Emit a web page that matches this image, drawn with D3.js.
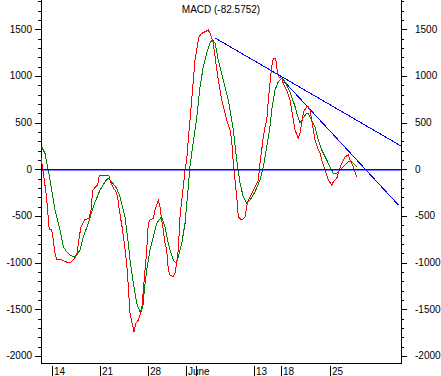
<!DOCTYPE html>
<html>
<head>
<meta charset="utf-8">
<script src="https://cdn.jsdelivr.net/npm/d3@7"></script>
<style>
  body { margin: 0; background: #fff; }
  svg { display: block; font-family: "Liberation Sans", Arial, sans-serif; font-size: 10px; }
</style>
</head>
<body>
<div id="chart"></div>
<script>
// time unit = trading days, 0 = May 14
var title = "MACD (-82.5752)";
var tickDays = [0, 4.95, 10, 14.1, 15.15, 21.2, 24.1, 29.25];
var tickLabels = ["14", "21", "28", "June", "", "13", "18", "25"];
var yMajor = [-2000, -1500, -1000, -500, 0, 500, 1000, 1500];

// MACD line (red) [day, value]
var macd = [[-1.21,120],[-1.03,10],[-0.68,-255],[-0.51,-436],[-0.34,-650],[-0.08,-650],[0.08,-757],[0.26,-897],
  [0.44,-971],[0.97,-971],[1.32,-990],[1.84,-1000],[2.19,-971],[2.55,-918],[2.82,-722],[3.0,-615],[3.35,-543],
  [3.87,-522],[4.05,-436],[4.23,-222],[4.58,-186],[4.76,-168],[4.93,-61],[5.92,-61],[6.05,-115],[6.34,-186],
  [6.68,-240],[6.86,-294],[7.03,-436],[7.32,-615],[7.56,-793],[7.81,-1007],[7.98,-1258],[8.16,-1543],[8.34,-1633],
  [8.58,-1740],[8.79,-1647],[9.03,-1615],[9.39,-1507],[9.56,-1293],[9.74,-1079],[9.92,-865],[10.08,-579],
  [10.26,-543],[10.61,-525],[10.79,-436],[11.14,-329],[11.32,-401],[11.49,-543],[11.66,-650],[11.84,-793],
  [12.02,-865],[12.19,-1079],[12.37,-1132],[12.72,-1150],[12.89,-1114],[13.07,-1007],[13.24,-865],[13.42,-508],
  [13.6,-329],[13.77,-186],[13.95,-8],[14.13,100],[14.29,314],[14.47,528],[14.65,742],[14.82,957],[15.0,1171],
  [15.18,1278],[15.42,1421],[15.71,1457],[16.05,1474],[16.4,1492],[16.58,1457],[16.93,1350],[17.11,1206],
  [17.45,957],[17.81,742],[18.16,600],[18.34,528],[18.68,421],[18.86,314],[19.03,64],[19.21,-115],[19.39,-294],
  [19.56,-508],[19.92,-543],[20.26,-508],[20.44,-401],[20.61,-329],[20.97,-257],[21.32,-186],[21.66,-115],
  [21.84,64],[22.02,207],[22.19,349],[22.37,456],[22.55,528],[22.72,742],[22.89,921],[23.07,1099],[23.24,1189],
  [23.49,1189],[23.6,1099],[23.77,992],[24.13,975],[24.29,921],[24.65,850],[25.0,742],[25.18,635],[25.35,528],
  [25.53,421],[25.87,332],[26.05,386],[26.23,493],[26.42,614],[26.76,671],[26.93,671],[27.11,635],[27.28,528],
  [27.45,421],[27.63,314],[27.98,207],[28.16,171],[28.34,100],[28.68,-8],[29.03,-115],[29.39,-168],[29.56,-133],
  [29.92,-96],[30.08,-43],[30.44,64],[30.79,135],[31.14,153],[31.32,100],[31.66,28],[32.02,-83]];

// signal line (green) [day, value]
var signal = [[-1.14,242],[-0.79,171],[-0.44,-8],[-0.08,-222],[0.26,-436],[0.79,-650],[1.14,-829],[1.49,-883],
  [1.84,-918],[2.19,-936],[2.55,-918],[2.89,-865],[3.24,-722],[3.77,-579],[4.29,-401],[5.0,-222],[5.53,-133],
  [5.87,-96],[6.23,-133],[6.76,-204],[7.11,-294],[7.63,-508],[7.98,-793],[8.16,-972],[8.51,-1221],[8.86,-1436],
  [9.21,-1526],[9.49,-1489],[9.74,-1221],[9.92,-1079],[10.26,-865],[10.44,-793],[10.97,-579],[11.49,-508],
  [11.84,-615],[12.19,-793],[12.37,-865],[12.72,-972],[13.0,-1007],[13.24,-936],[13.42,-865],[13.6,-793],
  [13.95,-579],[14.29,-186],[14.47,28],[14.65,171],[15.0,421],[15.18,550],[15.53,885],[15.87,1099],[16.23,1243],
  [16.58,1350],[16.82,1393],[17.11,1350],[17.45,1171],[17.98,957],[18.51,742],[18.86,528],[19.03,421],[19.39,100],
  [19.74,-150],[20.08,-294],[20.44,-364],[20.79,-329],[21.32,-240],[21.84,-115],[22.19,28],[22.55,242],[22.89,456],
  [23.07,635],[23.42,850],[23.77,939],[24.13,975],[24.47,939],[25.0,831],[25.53,671],[25.87,546],[26.05,493],
  [26.37,550],[26.76,600],[26.93,600],[27.28,528],[27.63,456],[27.98,314],[28.34,207],[28.86,100],[29.39,-8],
  [29.56,-43],[29.92,-43],[30.26,-8],[30.79,46],[31.14,81],[31.49,81],[31.84,46],[32.02,28]];

// trend lines drawn on the chart
var trendLines = [
  [[17.11, 1407], [36.68, 250]],
  [[23.95, 989], [36.4, -382]]
];

var width = 441, height = 376;
var plotLeft = 41, plotRight = 401, plotTop = 0, plotBottom = 363;

var x = d3.scaleLinear().domain([-1.21, 36.68]).range([plotLeft, plotRight]);
var y = d3.scaleLinear().domain([-2075, 1814]).range([plotBottom, plotTop]);

var svg = d3.select('#chart').append('svg')
  .attr('width', width)
  .attr('height', height);

// minor / major ticks on both y axes
var minor = d3.range(-2000, 1801, 100);
var yg = svg.append('g').attr('stroke', '#000').attr('shape-rendering', 'crispEdges');
minor.forEach(function(v) {
  var major = yMajor.indexOf(v) >= 0;
  var len = major ? 6 : 3;
  var py = Math.round(y(v)) + 0.5;
  yg.append('line').attr('x1', plotLeft - len).attr('x2', plotLeft).attr('y1', py).attr('y2', py);
  yg.append('line').attr('x1', plotRight).attr('x2', plotRight + len).attr('y1', py).attr('y2', py);
});

svg.append('g').selectAll('text').data(yMajor).enter().append('text')
  .attr('x', 32).attr('y', function(d) { return y(d); })
  .attr('dy', '0.35em').attr('text-anchor', 'end')
  .text(function(d) { return d; });
svg.append('g').selectAll('text').data(yMajor).enter().append('text')
  .attr('x', 415).attr('y', function(d) { return y(d); })
  .attr('dy', '0.35em')
  .text(function(d) { return d; });

// axis frame
var frame = svg.append('g').attr('stroke', '#000').attr('shape-rendering', 'crispEdges');
frame.append('line').attr('x1', plotLeft + 0.5).attr('x2', plotLeft + 0.5).attr('y1', plotTop).attr('y2', plotBottom + 0.5);
frame.append('line').attr('x1', plotRight + 0.5).attr('x2', plotRight + 0.5).attr('y1', plotTop).attr('y2', plotBottom + 0.5);
frame.append('line').attr('x1', plotLeft).attr('x2', plotRight + 1).attr('y1', plotBottom + 0.5).attr('y2', plotBottom + 0.5);

// x ticks
var xg = svg.append('g');
xg.selectAll('line').data(tickDays).enter().append('line')
  .attr('x1', function(d) { return Math.round(x(d)) + 0.5; })
  .attr('x2', function(d) { return Math.round(x(d)) + 0.5; })
  .attr('y1', 366).attr('y2', height)
  .attr('stroke', '#000').attr('shape-rendering', 'crispEdges');
xg.selectAll('text').data(tickDays).enter().append('text')
  .attr('x', function(d) { return Math.round(x(d)) + 2; })
  .attr('y', 375)
  .text(function(d, i) { return tickLabels[i]; });

var line = d3.line()
  .x(function(d) { return x(d[0]); })
  .y(function(d) { return y(d[1]); });

svg.append('g').selectAll('path').data(trendLines).enter().append('path')
  .attr('d', line).attr('fill', 'none').attr('stroke', '#0000ff')
  .attr('shape-rendering', 'crispEdges');

svg.append('path').datum(signal)
  .attr('d', line).attr('fill', 'none').attr('stroke', '#008000')
  .attr('shape-rendering', 'crispEdges');
svg.append('path').datum(macd)
  .attr('d', line).attr('fill', 'none').attr('stroke', '#ff0000')
  .attr('shape-rendering', 'crispEdges');

// zero line
svg.append('rect')
  .attr('x', plotLeft + 1).attr('width', plotRight - plotLeft - 1)
  .attr('y', Math.round(y(0))).attr('height', 1.5)
  .attr('fill', '#0000ff');

svg.append('text')
  .attr('x', 221).attr('y', 13)
  .attr('text-anchor', 'middle')
  .text(title);
</script>
</body>
</html>
